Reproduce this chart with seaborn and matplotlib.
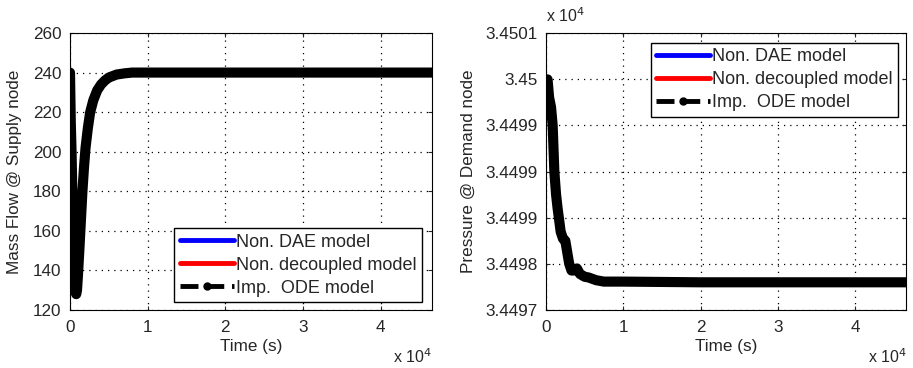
import numpy as np
import pandas as pd
import matplotlib
matplotlib.use("Agg")
import matplotlib.pyplot as plt
import seaborn as sns
from matplotlib.lines import Line2D

# ---- data ----
t_flow = [0, 100, 200, 300, 400, 500, 600, 700, 800, 900, 1000, 1200, 1400, 1600,
          1800, 2000, 2300, 2600, 3000, 3500, 4000, 4500, 5000, 6000, 7000, 8000,
          10000, 20000, 30000, 40000, 46600]
flow = [240, 215, 200, 180, 160, 145, 135, 129, 128, 130, 136, 150, 165, 180,
        192, 202, 212, 220, 226, 231, 234, 236, 237.5, 239, 239.6, 240,
        240, 240, 240, 240, 240]

t_press = [0, 200, 400, 650, 860, 1080, 1300, 1500, 1900, 2200, 2500, 2800, 3000,
           3300, 3600, 4000, 4400, 5000, 5500, 6500, 7500, 10000, 20000, 30000, 46600]
press = [34500.33, 34500.33, 34500.07, 34499.93, 34499.67, 34499.00, 34498.67,
         34498.47, 34498.13, 34498.03, 34498.00, 34497.80, 34497.67, 34497.57,
         34497.57, 34497.60, 34497.52, 34497.48, 34497.47, 34497.43, 34497.41,
         34497.41, 34497.40, 34497.40, 34497.40]

flow_ticks = [120, 140, 160, 180, 200, 220, 240, 260]
press_ticks = list(np.linspace(34497, 34501, 7))
press_tick_labels = ["3.4497", "3.4498", "3.4499", "3.4499", "3.4499", "3.45", "3.4501"]
time_ticks = [0, 10000, 20000, 30000, 40000]
time_tick_labels = ["0", "1", "2", "3", "4"]
series_names = ["Non. DAE model", "Non. decoupled model", "Imp.  ODE model"]

sns.set_style("ticks")
plt.rcParams["font.family"] = ["Liberation Sans", "DejaVu Sans"]
plt.rcParams["font.size"] = 12

fig = plt.figure(figsize=(9.13, 3.68), dpi=100)
W, H = 913, 368
axL = fig.add_axes([70 / W, 58 / H, 362 / W, 277 / H])
axR = fig.add_axes([546 / W, 58 / H, 360 / W, 277 / H])

FS = 12.3
LFS = 13.0


def draw(ax, t, y):
    df = pd.DataFrame({"t": t, "y": y})
    sns.lineplot(data=df, x="t", y="y", ax=ax, color="blue", lw=2.5, legend=False)
    sns.lineplot(data=df, x="t", y="y", ax=ax, color="red", lw=2.5, legend=False)
    sns.lineplot(data=df, x="t", y="y", ax=ax, color="black", lw=7.3,
                 solid_capstyle="round", solid_joinstyle="round", legend=False)
    ax.set_xlim(0, 46600)
    ax.set_xticks(time_ticks)
    ax.set_xticklabels(time_tick_labels)
    ax.grid(True, ls=(0, (1, 4)), color="black", lw=0.9)
    ax.tick_params(axis="both", direction="in", top=True, right=True, length=3,
                   labelsize=FS)
    ax.tick_params(axis="x", pad=7)
    ax.tick_params(axis="y", pad=6)
    for s in ax.spines.values():
        s.set_color("black")
        s.set_linewidth(0.8)
    ax.set_xlabel("Time (s)", fontsize=FS, labelpad=3)
    handles = [Line2D([], [], color="blue", lw=3.5),
               Line2D([], [], color="red", lw=3.5),
               Line2D([], [], color="black", lw=3.5, ls="--", marker="o", markersize=5)]
    return handles


legend_kw = dict(handlelength=3.0, handletextpad=0.1, borderpad=0.3, labelspacing=0.33,
                 borderaxespad=0.0, fontsize=LFS, frameon=True, fancybox=False,
                 edgecolor="black", framealpha=1)

hL = draw(axL, t_flow, flow)
axL.set_ylim(120, 260)
axL.set_yticks(flow_ticks)
axL.set_ylabel("Mass Flow @ Supply node", fontsize=FS, labelpad=8)
axL.legend(hL, series_names, loc="lower right", bbox_to_anchor=(0.972, 0.029), **legend_kw)

hR = draw(axR, t_press, press)
axR.set_ylim(34497, 34501)
axR.set_yticks(press_ticks)
axR.set_yticklabels(press_tick_labels)
axR.set_ylabel("Pressure @ Demand node", fontsize=FS, labelpad=7)
axR.legend(hR, series_names, loc="upper right", bbox_to_anchor=(0.978, 0.964), **legend_kw)

fig.text(393 / W, 1 - 357 / H, r"x 10$^4$", fontsize=11.5, va="center")
fig.text(868 / W, 1 - 357 / H, r"x 10$^4$", fontsize=11.5, va="center")
fig.text(546 / W, 1 - 16 / H, r"x 10$^4$", fontsize=11.5, va="center")

fig.savefig("out.png", dpi=100, facecolor="white")
